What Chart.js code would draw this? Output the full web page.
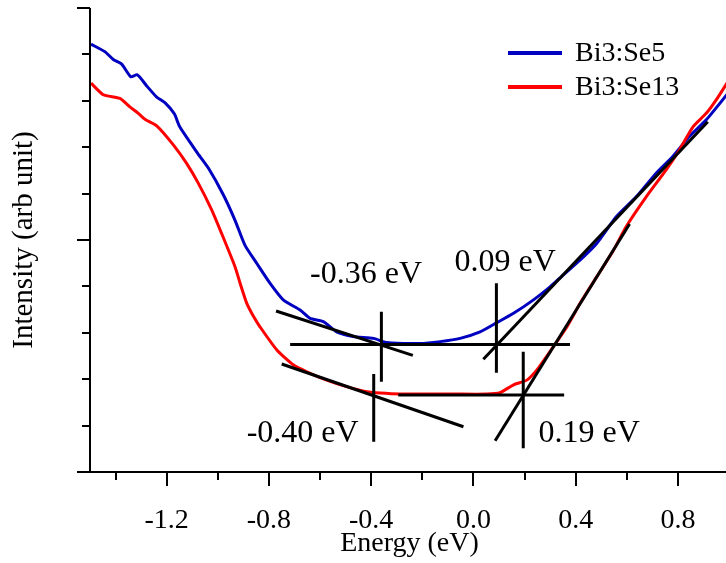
<!DOCTYPE html>
<html><head><meta charset="utf-8">
<script src="https://cdn.jsdelivr.net/npm/chart.js@4.4.1/dist/chart.umd.min.js"></script>
<style>
html,body{margin:0;padding:0;background:#fff;overflow:hidden;width:726px;height:563px}
#wrap{width:730px;height:563px}
</style></head>
<body><div id="wrap"><canvas id="c" width="730" height="563"></canvas></div>
<script>
// ---------- data ----------
const seriesNames = ['Bi3:Se5', 'Bi3:Se13'];

const energyBlue = [-1.496,-1.442,-1.409,-1.376,-1.341,-1.315,-1.278,-1.239,-1.207,-1.170,-1.150,-1.083,-1.037,-0.978,-0.933,-0.894,-0.848,-0.796,-0.744,-0.678,-0.639,-0.587,-0.535,-0.470,-0.391,-0.339,-0.209,-0.130,-0.052,0.026,0.092,0.157,0.235,0.300,0.352,0.418,0.483,0.559,0.637,0.715,0.780,0.845,0.911,1.000];
const intensityBlue = [9.22,9.06,8.89,8.79,8.52,8.56,8.32,8.08,7.96,7.72,7.45,6.90,6.55,5.97,5.43,4.89,4.50,4.07,3.71,3.49,3.31,3.24,3.02,2.92,2.88,2.79,2.77,2.81,2.88,3.02,3.22,3.42,3.71,3.99,4.25,4.57,4.93,5.50,5.93,6.44,6.80,7.23,7.59,8.19];

const energyRed = [-1.496,-1.448,-1.383,-1.344,-1.311,-1.285,-1.239,-1.174,-1.122,-1.076,-1.024,-0.985,-0.933,-0.910,-0.887,-0.860,-0.835,-0.769,-0.705,-0.652,-0.574,-0.496,-0.417,-0.365,-0.287,-0.078,0.052,0.104,0.157,0.209,0.254,0.313,0.366,0.418,0.483,0.548,0.598,0.676,0.754,0.806,0.859,0.911,0.950,1.000];
const intensityRed = [8.38,8.13,8.05,7.87,7.73,7.60,7.46,7.05,6.65,6.22,5.65,5.14,4.43,4.02,3.64,3.35,3.13,2.63,2.31,2.16,1.98,1.84,1.73,1.70,1.68,1.68,1.68,1.71,1.88,1.98,2.24,2.70,3.13,3.64,4.21,4.78,5.29,5.93,6.51,6.94,7.44,7.73,8.02,8.45];

// fitted straight lines: [x1, y1, x2, y2]
const fitLines = [
  [-0.772, 3.47, -0.237, 2.515],   // Se5 tail tangent
  [-0.717, 2.75, 0.378, 2.75],     // Se5 baseline
  [-0.36, 3.455, -0.36, 1.946],    // Se5 marker -0.36
  [0.09, 4.067, 0.09, 2.14],       // Se5 marker 0.09
  [0.039, 2.429, 0.917, 7.55],     // Se5 edge slope
  [-0.75, 2.328, -0.039, 0.976],   // Se13 tail tangent
  [-0.294, 1.659, 0.355, 1.659],   // Se13 baseline
  [-0.39, 2.112, -0.39, 0.653],    // Se13 marker -0.40
  [0.195, 2.593, 0.195, 0.511],    // Se13 marker 0.19
  [0.085, 0.675, 0.611, 5.345]     // Se13 edge slope
];

const gapLabels = ['-0.36 eV', '0.09 eV', '-0.40 eV', '0.19 eV'];
const gapLabelX = [-0.42, 0.124, -0.668, 0.453];
const gapLabelY = [4.07, 4.33, 0.65, 0.65];

const xTicks = [-1.4,-1.2,-1.0,-0.8,-0.6,-0.4,-0.2,0.0,0.2,0.4,0.6,0.8];
const xLabeled = [-1.2,-0.8,-0.4,0.0,0.4,0.8];
const yTicks = [0,1,2,3,4,5,6,7,8,9,10];
const yMajor = [0,5,10];

// ---------- chart ----------
const FONT = "'Liberation Serif', 'Times New Roman', serif";
const BLUE = '#0000c0';
const RED = '#ff0000';
const isLabeled = v => xLabeled.some(m => Math.abs(m - v) < 1e-9);

const toXY = (xs, ys) => xs.map((x, i) => ({x, y: ys[i]}));

const datasets = [
  {label: seriesNames[0], data: toXY(energyBlue, intensityBlue), borderColor: BLUE, borderWidth: 3, pointRadius: 0, tension: 0.2, borderJoinStyle: 'round', order: 3, fill: false},
  {label: seriesNames[1], data: toXY(energyRed, intensityRed), borderColor: RED, borderWidth: 3, pointRadius: 0, tension: 0.2, borderJoinStyle: 'round', order: 2, fill: false}
];
fitLines.forEach(l => datasets.push({
  label: '', data: [{x: l[0], y: l[1]}, {x: l[2], y: l[3]}],
  borderColor: '#000', borderWidth: 3, pointRadius: 0, tension: 0, order: 1, fill: false
}));

const decorPlugin = {
  id: 'decor',
  afterDraw(chart) {
    const {ctx, chartArea: a, scales: {x, y}} = chart;
    ctx.save();
    // axes and ticks
    ctx.strokeStyle = '#000';
    ctx.lineWidth = 2;
    const L = Math.round(a.left), B = Math.round(a.bottom), T = Math.round(a.top);
    ctx.beginPath();
    ctx.moveTo(L, T); ctx.lineTo(L, B + 1);
    ctx.moveTo(L - 1, B); ctx.lineTo(a.right + 2, B);
    xTicks.forEach(v => {
      const px = Math.round(x.getPixelForValue(v));
      const len = isLabeled(v) ? 14 : 8;
      ctx.moveTo(px, B); ctx.lineTo(px, B + len);
    });
    yTicks.forEach(v => {
      const py = Math.round(y.getPixelForValue(v));
      const len = yMajor.includes(v) ? 13 : 8;
      ctx.moveTo(L, py); ctx.lineTo(L - len, py);
    });
    ctx.stroke();

    // gap labels
    ctx.fillStyle = '#000';
    ctx.font = '32px ' + FONT;
    ctx.textAlign = 'center';
    ctx.textBaseline = 'alphabetic';
    gapLabels.forEach((t, i) => {
      ctx.fillText(t, x.getPixelForValue(gapLabelX[i]), y.getPixelForValue(gapLabelY[i]));
    });

    // legend
    const lx = a.right - 221, ly = a.top + 45;
    ctx.font = '28px ' + FONT;
    ctx.textAlign = 'left';
    ctx.textBaseline = 'middle';
    [0, 1].forEach(i => {
      const ds = chart.data.datasets[i];
      const yy = ly + i * 34;
      ctx.strokeStyle = ds.borderColor;
      ctx.lineWidth = 4;
      ctx.beginPath();
      ctx.moveTo(lx, yy); ctx.lineTo(lx + 54, yy);
      ctx.stroke();
      ctx.fillStyle = '#000';
      ctx.fillText(ds.label, lx + 67, yy + 1);
    });
    ctx.restore();
  }
};

new Chart(document.getElementById('c'), {
  type: 'line',
  data: {datasets},
  options: {
    responsive: false,
    animation: false,
    devicePixelRatio: 1,
    layout: {padding: {top: 8, right: 1, left: 0, bottom: 0}},
    plugins: {legend: {display: false}, tooltip: {enabled: false}},
    scales: {
      x: {
        type: 'linear', min: -1.5, max: 1.0,
        afterBuildTicks: s => { s.ticks = xTicks.map(v => ({value: v})); },
        afterFit: s => { s.height = 91; },
        grid: {display: false, drawTicks: false},
        border: {display: false},
        ticks: {
          autoSkip: false, maxRotation: 0, minRotation: 0, padding: 32, color: '#000',
          font: {family: FONT, size: 28},
          callback: v => isLabeled(v) ? (Math.abs(v) < 1e-9 ? '0.0' : v.toFixed(1)) : ''
        },
        title: {display: true, text: 'Energy (eV)', color: '#000', font: {family: FONT, size: 28}, padding: {top: 0, bottom: 3}}
      },
      y: {
        type: 'linear', min: 0, max: 10,
        afterBuildTicks: s => { s.ticks = yTicks.map(v => ({value: v})); },
        afterFit: s => { s.width = 90; },
        grid: {display: false, drawTicks: false},
        border: {display: false},
        ticks: {display: false},
        title: {display: true, text: 'Intensity (arb unit)', color: '#000', font: {family: FONT, size: 29}, padding: {top: 7, bottom: 0}}
      }
    }
  },
  plugins: [decorPlugin]
});
</script>
</body></html>
